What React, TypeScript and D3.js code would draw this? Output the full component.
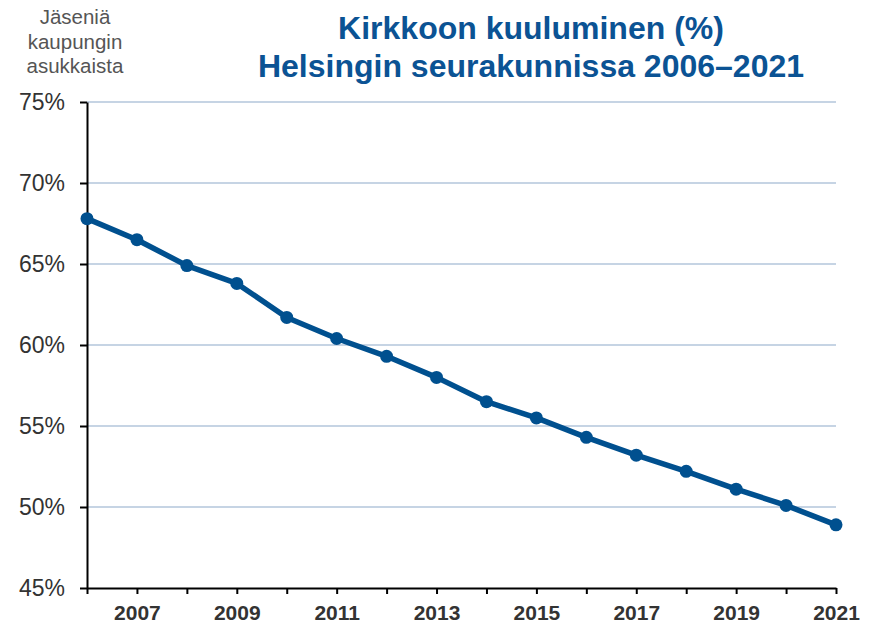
import React, { useEffect, useRef } from 'react';
import * as d3 from 'd3';

const years = [2006, 2007, 2008, 2009, 2010, 2011, 2012, 2013, 2014, 2015, 2016, 2017, 2018, 2019, 2020, 2021];
const shares = [67.8, 66.5, 64.9, 63.8, 61.7, 60.4, 59.3, 58.0, 56.5, 55.5, 54.3, 53.2, 52.2, 51.1, 50.1, 48.9];
const yTicks = [45, 50, 55, 60, 65, 70, 75];
const titleLines = ['Kirkkoon kuuluminen (%)', 'Helsingin seurakunnissa 2006–2021'];
const yLabelLines = ['Jäseniä', 'kaupungin', 'asukkaista'];

const FONT = 'Liberation Sans, Arial, sans-serif';

const App: React.FC = () => {
  const svgRef = useRef<SVGSVGElement>(null);

  useEffect(() => {
    if (!svgRef.current) return;
    const W = 877;
    const H = 625;
    const margin = { top: 102, right: 41, bottom: 37, left: 87 };
    const width = W - margin.left - margin.right;
    const height = H - margin.top - margin.bottom;

    const root = d3.select(svgRef.current);
    root.selectAll('*').remove();

    const x = d3.scaleLinear().domain([2006, 2021]).range([0, width]);
    const y = d3.scaleLinear().domain([45, 75]).range([height, 0]);

    // Title
    root.append('g')
      .selectAll('text')
      .data(titleLines)
      .enter()
      .append('text')
      .attr('x', 531)
      .attr('y', (_d, i) => 39 + i * 38)
      .attr('text-anchor', 'middle')
      .attr('font-family', FONT)
      .attr('font-weight', 'bold')
      .attr('font-size', '32px')
      .attr('fill', '#0b5394')
      .text(d => d);

    // Y axis label
    root.append('g')
      .selectAll('text')
      .data(yLabelLines)
      .enter()
      .append('text')
      .attr('x', 75)
      .attr('y', (_d, i) => 24 + i * 24.5)
      .attr('text-anchor', 'middle')
      .attr('font-family', FONT)
      .attr('font-size', '20.5px')
      .attr('fill', '#555555')
      .text(d => d);

    const svg = root.append('g')
      .attr('transform', `translate(${margin.left},${margin.top})`);

    // Grid lines
    svg.append('g')
      .selectAll('line')
      .data(yTicks.filter(t => t !== 45))
      .enter()
      .append('line')
      .attr('x1', 0)
      .attr('x2', width)
      .attr('y1', d => y(d))
      .attr('y2', d => y(d))
      .attr('stroke', '#c6d4e4')
      .attr('stroke-width', 2);

    // Y axis
    const yAxis = svg.append('g')
      .call(d3.axisLeft(y).tickValues(yTicks).tickSize(7).tickSizeOuter(0).tickFormat(d => `${d}%`));
    yAxis.select('.domain').attr('stroke', '#000').attr('stroke-width', 2);
    yAxis.selectAll('.tick line').attr('stroke', '#000').attr('stroke-width', 2);
    yAxis.selectAll('.tick text')
      .attr('x', -22)
      .attr('font-family', FONT)
      .attr('font-size', '23px')
      .attr('fill', '#333');

    // X axis
    const xAxis = svg.append('g')
      .attr('transform', `translate(0,${height})`)
      .call(d3.axisBottom(x).tickValues(years).tickSize(6).tickSizeOuter(0)
        .tickFormat(d => ((d as number) % 2 === 1 ? String(d) : '')));
    xAxis.select('.domain').attr('stroke', '#000').attr('stroke-width', 2);
    xAxis.selectAll('.tick line').attr('stroke', '#000').attr('stroke-width', 2);
    xAxis.selectAll('.tick text')
      .attr('y', 17)
      .attr('font-family', FONT)
      .attr('font-weight', 'bold')
      .attr('font-size', '21px')
      .attr('fill', '#333');

    // Line
    const data = years.map((yr, i) => ({ yr, v: shares[i] }));
    const line = d3.line<{ yr: number; v: number }>()
      .x(d => x(d.yr))
      .y(d => y(d.v));

    svg.append('path')
      .datum(data)
      .attr('fill', 'none')
      .attr('stroke', '#00508f')
      .attr('stroke-width', 5.5)
      .attr('stroke-linejoin', 'round')
      .attr('d', line);

    svg.selectAll('.dot')
      .data(data)
      .enter()
      .append('circle')
      .attr('class', 'dot')
      .attr('cx', d => x(d.yr))
      .attr('cy', d => y(d.v))
      .attr('r', 6.5)
      .attr('fill', '#00508f');
  }, []);

  return <svg ref={svgRef} width={877} height={625} style={{ display: 'block', position: 'absolute', left: 0, top: 0 }} />;
};

export default App;
